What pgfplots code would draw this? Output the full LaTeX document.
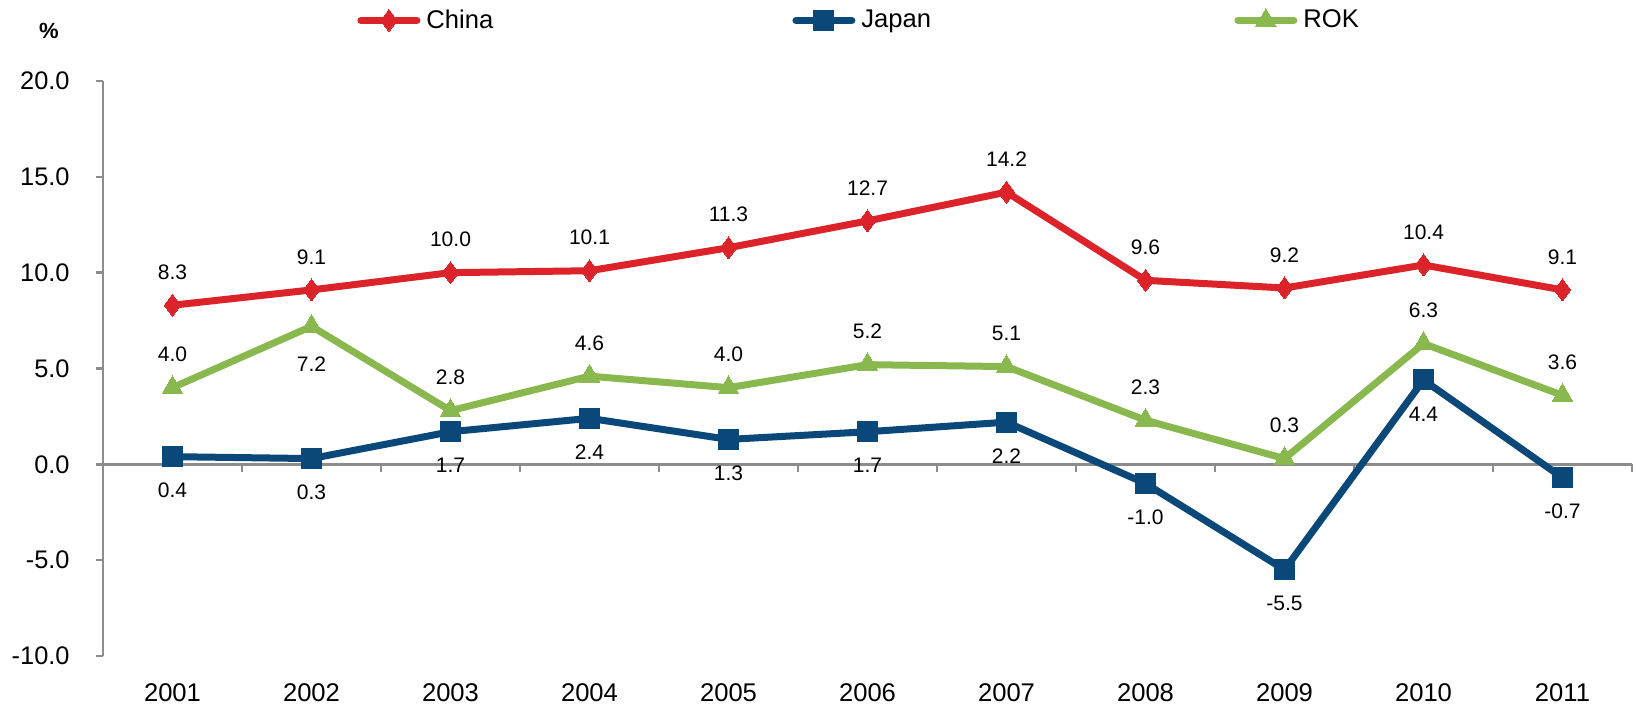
\documentclass[border=0pt]{standalone}
\usepackage{pgfplots}
\pgfplotsset{compat=1.18}
\usepackage{pgfplotstable}
\usepackage{fontspec}
\setmainfont{Liberation Sans}
\definecolor{cnred}{RGB}{220,35,42}
\definecolor{jpblue}{RGB}{11,72,122}
\definecolor{rokgreen}{RGB}{137,184,78}
\definecolor{axgray}{RGB}{140,140,140}

\pgfplotstableread{
x y off
0 8.3 16.5
1 9.1 16.5
2 10.0 16.5
3 10.1 16.5
4 11.3 16.5
5 12.7 16.5
6 14.2 16.5
7 9.6 16.5
8 9.2 16.5
9 10.4 16.5
10 9.1 16.5
}\china
\pgfplotstableread{
x y off
0 0.4 -17
1 0.3 -17
2 1.7 -17
3 2.4 -17
4 1.3 -17
5 1.7 -17
6 2.2 -17
7 -1.0 -17
8 -5.5 -17
9 4.4 -17
10 -0.7 -17
}\japan
\pgfplotstableread{
x y off
0 4.0 16.5
1 7.2 -19
2 2.8 16.5
3 4.6 16.5
4 4.0 16.5
5 5.2 16.5
6 5.1 16.5
7 2.3 16.5
8 0.3 16.5
9 6.3 16.5
10 3.6 16.5
}\rok

\begin{document}
\begin{tikzpicture}
\begin{axis}[
  scale only axis,
  width=764.5pt, height=287.5pt,
  xmin=-0.5, xmax=10.5,
  ymin=-10, ymax=20,
  clip=false,
  axis y line*=left,
  axis x line*=bottom,
  x axis line style={draw=none},
  y axis line style={draw=axgray, line width=1.2pt},
  xtick=data,
  xticklabels={2001,2002,2003,2004,2005,2006,2007,2008,2009,2010,2011},
  xtick style={draw=none},
  major tick length=3.5pt,
  tick align=outside,
  ytick={-10,-5,0,5,10,15,20},
  ytick style={draw=axgray, line width=1.2pt},
  /pgf/number format/assume math mode=true,
  yticklabel style={/pgf/number format/.cd, fixed, fixed zerofill, precision=1, /tikz/.cd, font=\fontsize{12.7}{14}\selectfont, inner sep=0pt, anchor=east, xshift=-13pt},
  xticklabel style={font=\fontsize{12.8}{14}\selectfont, inner sep=0pt, anchor=north, yshift=-10pt},
  nodes near coords,
  nodes near coords style={/pgf/number format/.cd, fixed, fixed zerofill, precision=1, /tikz/.cd, font=\fontsize{10.5}{12}\selectfont, text=black, anchor=center, inner sep=0pt},
  visualization depends on={\thisrow{off} \as \lbloff},
  every node near coord/.append style={yshift=\lbloff pt},
  legend columns=3,
  legend style={draw=none, fill=none, inner sep=0pt, column sep=0pt,
    nodes={inner sep=0pt, anchor=west, font=\fontsize{12.8}{14}\selectfont},
    at={(rel axis cs:0,1)}, anchor=west, xshift=127pt, yshift=30.5pt},
  legend image code/.code={\draw[mark repeat=2, mark phase=2, #1] plot coordinates {(0pt,0pt) (14pt,0pt) (28pt,0pt)};},
  every axis plot/.append style={line width=3.5pt, line cap=round, line join=round},
]
\coordinate (SW) at (rel axis cs:0,0);
\coordinate (NE) at (rel axis cs:1,1);
\draw[axgray, line width=1.2pt] (axis cs:-0.5,0) -- (axis cs:10.5,0);
\pgfplotsinvokeforeach{0.5,1.5,2.5,3.5,4.5,5.5,6.5,7.5,8.5,9.5,10.5}{
  \draw[axgray, line width=1.2pt] (axis cs:#1,0) -- ++(0pt,-4pt);
}
\addplot[color=cnred, mark=diamond*, mark size=5.5pt, mark options={solid, line width=0pt, fill=cnred}] table[x=x,y=y] {\china};
\addlegendentry{\hspace*{3pt}\makebox[183pt][l]{China}}
\addplot[color=jpblue, mark=square*, mark size=5pt, mark options={solid, line width=0pt, fill=jpblue}] table[x=x,y=y] {\japan};
\addlegendentry{\hspace*{3pt}\makebox[186.5pt][l]{Japan}}
\addplot[color=rokgreen, mark=triangle*, mark size=6pt, mark options={solid, line width=0pt, fill=rokgreen}] table[x=x,y=y] {\rok};
\addlegendentry{\hspace*{3pt}ROK}
\node[font=\bfseries\fontsize{11}{13}\selectfont, inner sep=0pt] at ([xshift=-27pt, yshift=25pt]rel axis cs:0,1) {\%};
\end{axis}
\pgfresetboundingbox
\useasboundingbox ([xshift=-51.5pt,yshift=-27pt]SW) rectangle ([xshift=2.5pt,yshift=40.5pt]NE);
\end{tikzpicture}
\end{document}
